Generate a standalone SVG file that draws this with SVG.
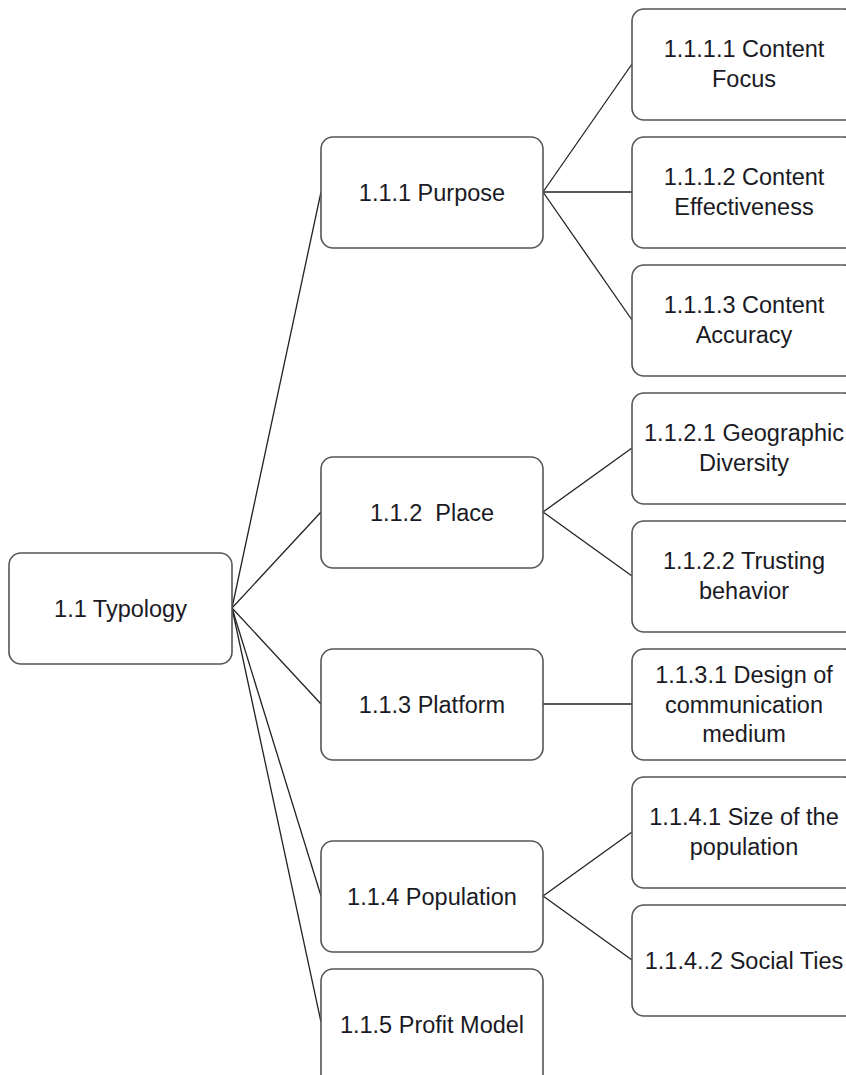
<svg xmlns="http://www.w3.org/2000/svg" width="846" height="1075" viewBox="0 0 846 1075">
<style>
.box{fill:#fff;stroke:#555;stroke-width:1.6}
.lbl{font-family:"Liberation Sans",Arial,sans-serif;font-size:23.5px;fill:#1a1a24;text-anchor:middle}
.con{stroke:#222;stroke-width:1.3;fill:none}
</style>
<rect width="846" height="1075" fill="#fff"/>
<g id="connectors">
<line class="con" x1="232" y1="608" x2="321" y2="192"/>
<line class="con" x1="232" y1="608" x2="321" y2="512"/>
<line class="con" x1="232" y1="608" x2="321" y2="704"/>
<line class="con" x1="232" y1="608" x2="321" y2="896"/>
<line class="con" x1="232" y1="608" x2="321" y2="1022"/>
<line class="con" x1="543" y1="192" x2="632" y2="64"/>
<line class="con" x1="543" y1="192" x2="632" y2="192"/>
<line class="con" x1="543" y1="192" x2="632" y2="320"/>
<line class="con" x1="543" y1="512" x2="632" y2="448"/>
<line class="con" x1="543" y1="512" x2="632" y2="576"/>
<line class="con" x1="543" y1="704" x2="632" y2="704"/>
<line class="con" x1="543" y1="896" x2="632" y2="832"/>
<line class="con" x1="543" y1="896" x2="632" y2="960"/>
</g>
<g id="n11"><rect class="box" x="9" y="553" width="223" height="111" rx="12"/><text class="lbl" x="120.5" y="617">1.1 Typology</text></g>
<g id="n111"><rect class="box" x="321" y="137" width="222" height="111" rx="12"/><text class="lbl" x="432" y="201">1.1.1 Purpose</text></g>
<g id="n112"><rect class="box" x="321" y="457" width="222" height="111" rx="12"/><text class="lbl" x="432" y="521" xml:space="preserve">1.1.2  Place</text></g>
<g id="n113"><rect class="box" x="321" y="649" width="222" height="111" rx="12"/><text class="lbl" x="432" y="713">1.1.3 Platform</text></g>
<g id="n114"><rect class="box" x="321" y="841" width="222" height="111" rx="12"/><text class="lbl" x="432" y="905">1.1.4 Population</text></g>
<g id="n115"><rect class="box" x="321" y="969" width="222" height="120" rx="12"/><text class="lbl" x="432" y="1033">1.1.5 Profit Model</text></g>
<g id="n1111"><rect class="box" x="632" y="9" width="224" height="111" rx="12"/><text class="lbl" x="744" y="57">1.1.1.1 Content</text><text class="lbl" x="744" y="87">Focus</text></g>
<g id="n1112"><rect class="box" x="632" y="137" width="224" height="111" rx="12"/><text class="lbl" x="744" y="185">1.1.1.2 Content</text><text class="lbl" x="744" y="215">Effectiveness</text></g>
<g id="n1113"><rect class="box" x="632" y="265" width="224" height="111" rx="12"/><text class="lbl" x="744" y="313">1.1.1.3 Content</text><text class="lbl" x="744" y="343">Accuracy</text></g>
<g id="n1121"><rect class="box" x="632" y="393" width="224" height="111" rx="12"/><text class="lbl" x="744" y="441">1.1.2.1 Geographic</text><text class="lbl" x="744" y="471">Diversity</text></g>
<g id="n1122"><rect class="box" x="632" y="521" width="224" height="111" rx="12"/><text class="lbl" x="744" y="569">1.1.2.2 Trusting</text><text class="lbl" x="744" y="599">behavior</text></g>
<g id="n1131"><rect class="box" x="632" y="649" width="224" height="111" rx="12"/><text class="lbl" x="744" y="683">1.1.3.1 Design of</text><text class="lbl" x="744" y="713">communication</text><text class="lbl" x="744" y="742">medium</text></g>
<g id="n1141"><rect class="box" x="632" y="777" width="224" height="111" rx="12"/><text class="lbl" x="744" y="825">1.1.4.1 Size of the</text><text class="lbl" x="744" y="855">population</text></g>
<g id="n1142"><rect class="box" x="632" y="905" width="224" height="111" rx="12"/><text class="lbl" x="744" y="969">1.1.4..2 Social Ties</text></g>
</svg>
